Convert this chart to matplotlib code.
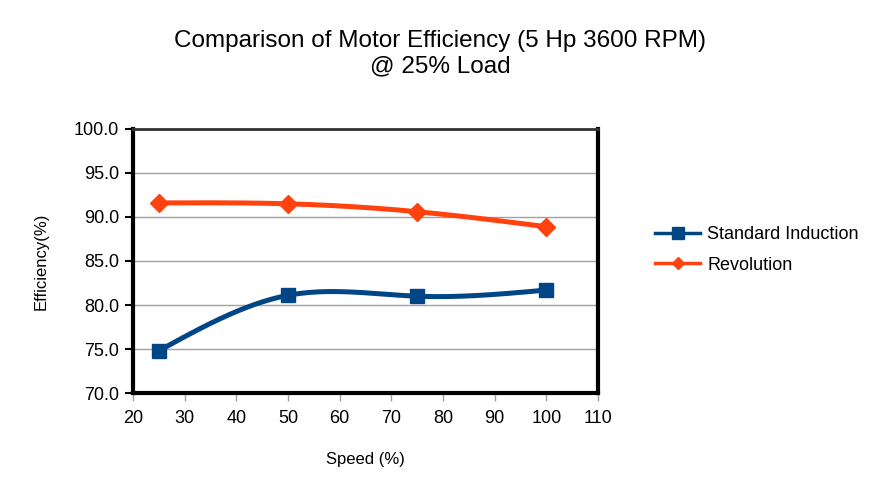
import numpy as np
import matplotlib
matplotlib.use("Agg")
from matplotlib import pyplot as plt

plt.rcParams["font.family"] = ["Liberation Sans", "DejaVu Sans"]

speed = [25, 50, 75, 100]
standard = [74.8, 81.1, 81.0, 81.7]
revolution = [91.6, 91.5, 90.6, 88.9]


def natural_spline(x, y, n=200):
    # natural cubic spline through the points, for the smoothed line
    x = np.asarray(x, float)
    y = np.asarray(y, float)
    k = len(x)
    h = np.diff(x)
    A = np.zeros((k, k))
    b = np.zeros(k)
    A[0, 0] = A[-1, -1] = 1
    for i in range(1, k - 1):
        A[i, i - 1] = h[i - 1]
        A[i, i] = 2 * (h[i - 1] + h[i])
        A[i, i + 1] = h[i]
        b[i] = 6 * ((y[i + 1] - y[i]) / h[i] - (y[i] - y[i - 1]) / h[i - 1])
    m = np.linalg.solve(A, b)
    xs = np.linspace(x[0], x[-1], n)
    ys = np.empty_like(xs)
    for j, xv in enumerate(xs):
        i = min(np.searchsorted(x, xv, side="right") - 1, k - 2)
        t = xv - x[i]
        hi = h[i]
        a = (m[i + 1] - m[i]) / (6 * hi)
        c = m[i] / 2
        d = (y[i + 1] - y[i]) / hi - hi * (2 * m[i] + m[i + 1]) / 6
        ys[j] = y[i] + d * t + c * t ** 2 + a * t ** 3
    return xs, ys


fig = plt.figure(figsize=(8.81, 4.96), dpi=100)
ax = fig.add_axes([133 / 881, 1 - 393 / 496, (598 - 133) / 881, (393 - 129) / 496])

blue = "#004586"
red = "#ff420e"

xs, ys = natural_spline(speed, standard)
ax.plot(xs, ys, color=blue, lw=3.6, zorder=3)
ax.plot(speed, standard, "s", color=blue, ms=10, zorder=4)
xs, ys = natural_spline(speed, revolution)
ax.plot(xs, ys, color=red, lw=3.6, zorder=3)
ax.plot(speed, revolution, "D", color=red, ms=9.5, zorder=4)

# legend proxies
ax.plot([], [], "-s", color=blue, lw=2.5, ms=8, label="Standard Induction")
ax.plot([], [], "-D", color=red, lw=2.5, ms=6, label="Revolution")

ax.set_xlim(20, 110)
ax.set_ylim(70, 100)
ax.set_xticks(range(20, 111, 10))
ax.set_yticks(np.arange(70, 100.1, 5))
ax.set_yticklabels([f"{v:.1f}" for v in np.arange(70, 100.1, 5)])
ax.yaxis.grid(True, color="#a0a0a0", lw=1)
ax.set_axisbelow(True)
ax.tick_params(axis="y", length=6, width=1.5, labelsize=13, pad=4)
ax.tick_params(axis="x", length=6, width=1, color="#a0a0a0", labelsize=13, pad=6)

for side in ["left", "bottom", "right"]:
    ax.spines[side].set_linewidth(3)
    ax.spines[side].set_color("black")
ax.spines["top"].set_linewidth(2)
ax.spines["top"].set_color("#333333")

ax.set_xlabel("Speed (%)", fontsize=12, labelpad=18)
ax.set_ylabel("Efficiency(%)", fontsize=12, labelpad=18)

fig.text(440 / 881, 1 - 54 / 496, "Comparison of Motor Efficiency (5 Hp 3600 RPM)\n@ 25% Load",
         ha="center", va="center", fontsize=17.5, linespacing=1.2)

ax.legend(loc="center left", bbox_to_anchor=(655 / 881, 1 - 250 / 496),
          bbox_transform=fig.transFigure, frameon=False, fontsize=13,
          handlelength=2.5, handletextpad=0.4, borderpad=0, borderaxespad=0,
          labelspacing=0.75)

fig.savefig("out.png", dpi=100)
